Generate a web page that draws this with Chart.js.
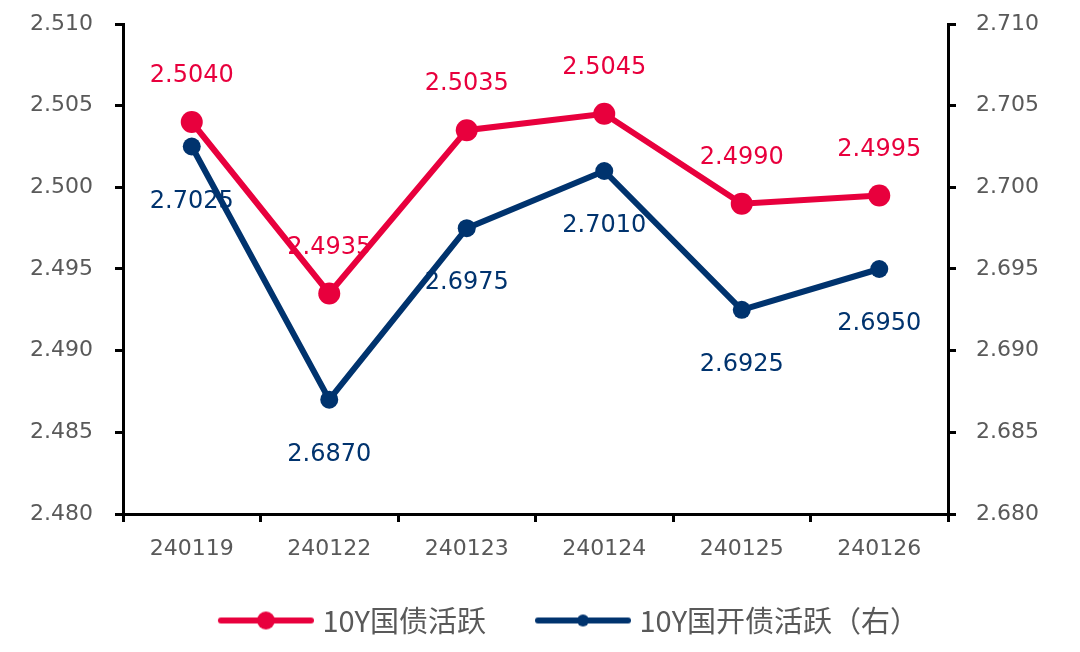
<!DOCTYPE html>
<html>
<head>
<meta charset="utf-8">
<script src="https://cdn.jsdelivr.net/npm/chart.js@4/dist/chart.umd.min.js"></script>
<style>
  html, body { margin: 0; padding: 0; background: #fff; }
  #wrap { width: 1080px; height: 652px; }
</style>
</head>
<body>
<div id="wrap"><canvas id="grafica"></canvas></div>
<script>
// data
var fechas = ['240119', '240122', '240123', '240124', '240125', '240126']
var guozhai = [2.5040, 2.4935, 2.5035, 2.5045, 2.4990, 2.4995]
var guokai = [2.7025, 2.6870, 2.6975, 2.7010, 2.6925, 2.6950]
var nombres = ['10Y国债活跃', '10Y国开债活跃（右）']

var rojo = '#E8003D'
var azul = '#00336E'
var gris = '#595959'
var fuente = '"DejaVu Sans", Verdana, sans-serif'

// legend sample: line with a dot, sitting at the right end of the image
var anchoCaja = 101
function muestra(color, r){
    var c = document.createElement('canvas')
    c.width = anchoCaja + 12; c.height = 24
    var g = c.getContext('2d')
    var x0 = c.width - 96
    g.strokeStyle = color
    g.lineWidth = 6
    g.lineCap = 'round'
    g.beginPath(); g.moveTo(x0 + 3, 12); g.lineTo(x0 + 93, 12); g.stroke()
    g.fillStyle = color
    g.beginPath(); g.arc(x0 + 48, 12, r, 0, Math.PI * 2); g.fill()
    return c
}
var muestras = [muestra(rojo, 9), muestra(azul, 6)]

// value labels above / below points
const etiquetas = {
    id: 'etiquetas',
    afterDatasetsDraw(chart){
        var ctx = chart.ctx
        ctx.save()
        ctx.font = '24px ' + fuente
        ctx.textAlign = 'center'
        ctx.textBaseline = 'middle'
        chart.data.datasets.forEach(function(ds, d){
            var meta = chart.getDatasetMeta(d)
            ctx.fillStyle = ds.borderColor
            meta.data.forEach(function(p, i){
                var dy = d === 0 ? -46 : 55
                ctx.fillText(ds.data[i].toFixed(4), p.x, p.y + dy)
            })
        })
        ctx.restore()
    }
}

// legend sits a little right of centre
const moverLeyenda = {
    id: 'moverLeyenda',
    afterLayout(chart){
        var lg = chart.legend
        if (lg) { lg.left += 23; lg.right += 23 }
    }
}

function sinRelleno(s){ s.paddingTop = 0; s.paddingBottom = 0 }

const ctx = document.getElementById('grafica');
const myChart = new Chart(ctx, {
    type: 'line',
    data: {
        labels: fechas,
        datasets: [{
            label: nombres[0],
            data: guozhai,
            yAxisID: 'y',
            borderColor: rojo,
            backgroundColor: rojo,
            borderWidth: 6,
            pointRadius: 11,
            pointHoverRadius: 11,
            pointBorderWidth: 0
        }, {
            label: nombres[1],
            data: guokai,
            yAxisID: 'y2',
            borderColor: azul,
            backgroundColor: azul,
            borderWidth: 6,
            pointRadius: 9,
            pointHoverRadius: 9,
            pointBorderWidth: 0
        }]
    },
    options: {
        responsive: true,
        maintainAspectRatio: false,
        animation: false,
        layout: { padding: { top: 24, left: 0, right: 0, bottom: 7 } },
        scales: {
            x: {
                offset: true,
                grid: { offset: true, drawOnChartArea: false, drawTicks: true, tickLength: 8, color: '#000', lineWidth: 3 },
                border: { color: '#000', width: 3 },
                ticks: { color: gris, font: { size: 22, family: fuente }, padding: 14, maxRotation: 0 },
                afterFit: function(s){ s.height = 54 }
            },
            y: {
                position: 'left',
                min: 2.48, max: 2.51,
                grid: { drawOnChartArea: false, drawTicks: true, tickLength: 8, color: '#000', lineWidth: 3 },
                border: { color: '#000', width: 3 },
                ticks: { stepSize: 0.005, color: gris, padding: 22, font: { size: 22, family: fuente },
                    callback: function(v){ return v.toFixed(3) } },
                afterFit: function(s){ s.width = 123; sinRelleno(s) }
            },
            y2: {
                position: 'right',
                min: 2.68, max: 2.71,
                grid: { drawOnChartArea: false, drawTicks: true, tickLength: 8, color: '#000', lineWidth: 3 },
                border: { color: '#000', width: 3 },
                ticks: { stepSize: 0.005, color: gris, padding: 20, font: { size: 22, family: fuente },
                    callback: function(v){ return v.toFixed(3) } },
                afterFit: function(s){ s.width = 132; sinRelleno(s) }
            }
        },
        plugins: {
            tooltip: { enabled: false },
            legend: {
                position: 'bottom',
                labels: {
                    usePointStyle: true,
                    pointStyleWidth: anchoCaja,
                    padding: 38,
                    color: gris,
                    font: { size: 29, family: '"Noto Sans CJK SC", sans-serif' },
                    generateLabels: function(chart){
                        var items = Chart.defaults.plugins.legend.labels.generateLabels(chart)
                        items.forEach(function(it, i){ it.pointStyle = muestras[i] })
                        return items
                    }
                }
            }
        }
    },
    plugins: [etiquetas, moverLeyenda]
});
</script>
</body>
</html>
